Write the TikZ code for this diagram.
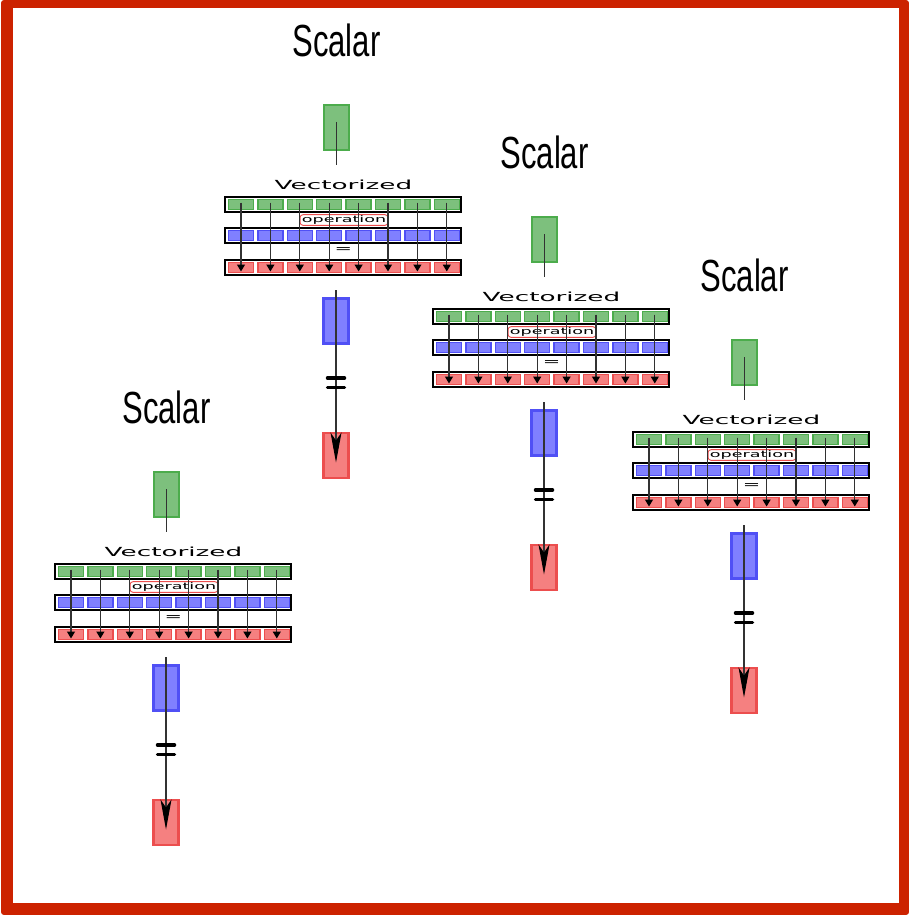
\documentclass[tikz,border=0pt]{standalone}
\usepackage{fontspec}
\setmainfont{Liberation Sans}
\newfontfamily\widefont{DejaVu Sans}
\usetikzlibrary{arrows.meta}
\definecolor{frameRed}{RGB}{204,34,0}
\definecolor{gFill}{RGB}{125,192,125}
\definecolor{gLine}{RGB}{76,172,76}
\definecolor{bFill}{RGB}{128,128,255}
\definecolor{bLine}{RGB}{80,80,245}
\definecolor{rFill}{RGB}{245,128,128}
\definecolor{rLine}{RGB}{236,78,78}
\definecolor{arrowGray}{RGB}{50,50,50}
\tikzset{
  bigbox/.style={draw, line width=2.8pt, minimum width=25pt, minimum height=45pt, inner sep=0pt},
  gbig/.style={bigbox, fill=gFill, draw=gLine},
  bbig/.style={bigbox, fill=bFill, draw=bLine},
  rbig/.style={bigbox, fill=rFill, draw=rLine},
  rowbar/.style={draw=black, fill=white, line width=2.8pt, minimum width=236pt, minimum height=15pt, inner sep=0pt},
  cell/.style={draw, line width=1.4pt, minimum width=25pt, minimum height=9.5pt, inner sep=0pt},
  gcell/.style={cell, fill=gFill, draw=gLine},
  bcell/.style={cell, fill=bFill, draw=bLine},
  rcell/.style={cell, fill=rFill, draw=rLine},
  vecarrow/.style={draw=arrowGray, line width=1.2pt, -{Triangle[length=7pt,width=8pt,fill=black,color=black]}},
  scalararrow/.style={draw=arrowGray, line width=1.2pt, -{Stealth[length=30pt,width=11pt,inset=8pt,fill=black,color=black]}},
  stem/.style={draw=arrowGray, line width=1.2pt},
  eqbar/.style={draw=black, line width=3.5pt, line cap=round},
  scalartitle/.style={font=\fontsize{45}{48}\selectfont, inner sep=0pt},
  vectitle/.style={font=\widefont\fontsize{12.5}{14}\selectfont, inner sep=0pt},
  oplabel/.style={font=\widefont\fontsize{9}{10}\selectfont, draw=rLine, line width=0.9pt, rounded corners=3pt, inner xsep=1.8pt, inner ysep=1pt, fill=white},
}
\begin{document}
\begin{tikzpicture}[x=1pt,y=-1pt]
\useasboundingbox (0,0) rectangle (909,915);
% outer frame
\fill[frameRed, rounded corners=3pt] (1,0) rectangle (909,915);
\fill[white] (13,8) rectangle (899,903);

% four identical scalar/vector panels
\foreach \dx/\dy/\n in {0/0/a, 208/112/b, 408/235/c, -170/367/d} {
  \begin{scope}[shift={(\dx,\dy)}]
    \node[scalartitle] (\n-title) at (336.5,40) {\scalebox{0.69}[1]{Scalar}};
    % scalar input
    \node[gbig] (\n-g) at (336.5,127.5) {};
    \coordinate (\n-gs) at (336.5,122);
    \coordinate (\n-ge) at (336.5,165);
    \draw[stem] (\n-gs) -- (\n-ge);
    % vectorized block
    \node[vectitle] (\n-vt) at (343.5,185) {\scalebox{2.1}[1]{Vectorized}};
    \node[rowbar] (\n-gr) at (343,204.5) {};
    \node[rowbar] (\n-br) at (343,235.5) {};
    \node[rowbar] (\n-rr) at (343,267.5) {};
    \foreach \i in {0,...,7} {
      \node[gcell] (\n-gc\i) at ({241+29.4*\i},204.5) {};
      \node[bcell] (\n-bc\i) at ({241+29.4*\i},235.5) {};
      \node[rcell] (\n-rc\i) at ({241+29.4*\i},267.5) {};
    }
    \node[oplabel] (\n-op) at (344,220) {\scalebox{1.95}[1]{operation}};
    \node[vectitle, font=\widefont\fontsize{11}{12}\selectfont] (\n-eq) at (343.5,250.5) {\scalebox{1.9}[1]{=}};
    \foreach \i in {0,...,7} {
      \draw[vecarrow] ([yshift=2pt]\n-gc\i.center) -- ([yshift=-4pt]\n-rc\i.center);
    }
    % scalar operation and result
    \node[bbig] (\n-b) at (336,321) {};
    \node[rbig] (\n-r) at (336,455.5) {};
    \coordinate (\n-bs) at (336,290);
    \draw[scalararrow] (\n-bs) -- ([yshift=-7pt]\n-r.center);
    \coordinate (\n-e1) at (327.5,378);
    \coordinate (\n-e2) at (344.5,378);
    \coordinate (\n-e3) at (327.5,387.5);
    \coordinate (\n-e4) at (344.5,387.5);
    \draw[eqbar] (\n-e1) -- (\n-e2);
    \draw[eqbar] (\n-e3) -- (\n-e4);
  \end{scope}
}
\end{tikzpicture}
\end{document}
